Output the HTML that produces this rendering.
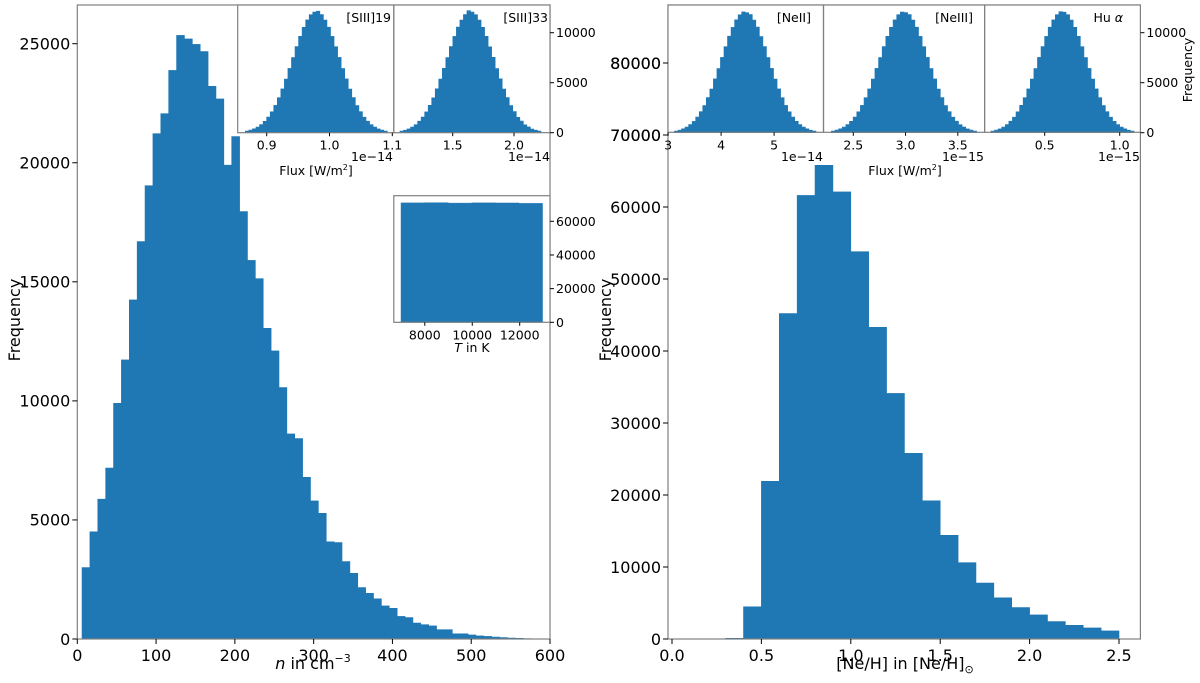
<!DOCTYPE html>
<html><head><meta charset="utf-8"><style>
body{margin:0;background:#fff}
svg{display:block;font-family:"DejaVu Sans","Liberation Sans",sans-serif}
</style></head><body>
<svg id="c" width="1200" height="683" viewBox="0 0 1200 683" xmlns="http://www.w3.org/2000/svg"></svg>
<script>
// ---- data ----
const nStart = 6, nWidth = 10;
const nCounts = [3000,4500,5870,7180,9900,11720,14240,16690,19040,21220,22060,23880,25350,25200,24970,24670,23210,22680,19900,21100,17950,15900,15130,13050,12100,10560,8610,8420,6790,5800,5280,4080,4050,3250,2760,2160,1920,1690,1390,1290,950,900,670,600,550,390,390,220,220,170,130,110,80,60,40,30,15];
const neStart = 0.3, neWidth = 0.1;
const neCounts = [100,4470,21900,45200,61600,65800,62100,53800,43300,34100,25800,19200,14400,10600,7770,5720,4370,3350,2420,1900,1530,1120];
const tStart = 7000, tEnd = 12960;
const tCounts = [70900,71000,70800,70950,70850,70600];
const gS19 = [170,260,390,560,810,1140,1560,2090,2730,3500,4380,5370,6430,7520,8610,9640,10540,11280,11800,12070,12150,11810,11270,10550,9630,8600,7530,6420,5380,4370,3510,2720,2100,1550,1150,800,570,380,260,170];
const gS33 = [160,250,380,570,800,1150,1570,2080,2740,3490,4390,5360,6440,7510,8620,9630,10560,11270,11820,12200,12060,11800,11260,10540,9640,8590,7540,6410,5390,4360,3520,2710,2110,1540,1160,790,580,370,250,160];
const gNe2 = [170,250,390,560,820,1130,1560,2100,2720,3510,4370,5380,6420,7530,8600,9650,10530,11290,11790,12080,12000,11820,11260,10560,9620,8610,7520,6430,5370,4380,3500,2730,2090,1560,1140,810,560,390,250,170];
const gNe3 = [170,260,390,560,810,1140,1560,2090,2730,3500,4380,5370,6430,7520,8610,9640,10540,11280,11800,12070,12010,11810,11270,10550,9630,8600,7530,6420,5380,4370,3510,2720,2100,1550,1150,800,570,380,260,170];
const gHu = [160,260,380,560,810,1150,1550,2090,2740,3500,4380,5370,6420,7530,8610,9630,10550,11280,11800,12100,12050,11800,11270,10540,9640,8600,7520,6430,5370,4380,3500,2720,2100,1550,1140,810,560,390,250,160];
const nTicks = [0,100,200,300,400,500,600];
const nYTicks = [0,5000,10000,15000,20000,25000];
const neTicks = [0.0,0.5,1.0,1.5,2.0,2.5];
const neTickLabels = ["0.0","0.5","1.0","1.5","2.0","2.5"];
const neYTicks = [0,10000,20000,30000,40000,50000,60000,70000,80000];
const insYTicks = [0,5000,10000];
const tYTicks = [0,20000,40000,60000];
const tXTicks = [8000,10000,12000];

const svg = document.getElementById('c');
const NS = 'http://www.w3.org/2000/svg';
const BLUE = '#1f77b4', SP = '#808080';
function mk(tag, attrs, parent){const e=document.createElementNS(NS,tag);for(const k in attrs)e.setAttribute(k,attrs[k]);(parent||svg).appendChild(e);return e;}
function lin(d0,d1,r0,r1){return v=>r0+(v-d0)*(r1-r0)/(d1-d0);}
function txt(x,y,s,size,anchor,name,extra){const t=mk('text',Object.assign({x:x,y:y,'font-size':size,'text-anchor':anchor||'middle',fill:'#000'},extra||{}));t.textContent=s;return t;}
function hist(counts,start,width,X,Y,name){
  const g=mk('g',{});
  
  
  let d='M'+X(start)+','+Y(0);
  counts.forEach((c,i)=>{d+=' L'+X(start+i*width)+','+Y(c)+' L'+X(start+(i+1)*width)+','+Y(c);});
  d+=' L'+X(start+counts.length*width)+','+Y(0)+' Z';
  const p=mk('path',{d:d,fill:BLUE,stroke:BLUE,'stroke-width':0.6},g);
  
  
  return g;
}
function frame(x0,y0,x1,y1,name){const r=mk('rect',{x:x0,y:y0,width:x1-x0,height:y1-y0,fill:'none',stroke:SP,'stroke-width':1.2});}
function xticks(vals,labels,X,y,size,name,len){vals.forEach((v,i)=>{mk('line',{x1:X(v),x2:X(v),y1:y,y2:y+len,stroke:'#000','stroke-width':1});txt(X(v),y+len+size+1,labels[i],size,'middle',name);});}
function yticksL(vals,Y,x,size,name){vals.forEach(v=>{mk('line',{x1:x,x2:x-5,y1:Y(v),y2:Y(v),stroke:'#000','stroke-width':1});txt(x-7,Y(v)+size*0.36,String(v),size,'end',name);});}
function yticksR(vals,Y,x,size,name){vals.forEach(v=>{mk('line',{x1:x,x2:x+4,y1:Y(v),y2:Y(v),stroke:'#000','stroke-width':1});txt(x+6,Y(v)+size*0.36,String(v),size,'start',name);});}

// ---- left main ----
const LX=lin(0,600,77.3,550), LY=lin(0,25000,639,43.7);
hist(nCounts,nStart,nWidth,LX,LY,'density-histogram');
frame(77.3,5,550,639,'density-axes');
xticks(nTicks,nTicks.map(String),LX,639,16,'x-tick-label',5);
yticksL(nYTicks,LY,77.3,16,'y-tick-label');
const xl=txt(313,669,'',16,'middle','density-x-axis-title');
xl.innerHTML='<tspan font-style="italic">n</tspan> in cm<tspan dy="-7" font-size="11">−3</tspan>';
txt(0,0,'Frequency',16,'middle','left-y-axis-title',{transform:'translate(20,320) rotate(-90)'});

// ---- insets left ----
const IY=lin(0,10000,132.7,32.7);
mk('rect',{x:237,y:5,width:313,height:128,fill:'#fff'});
const S1X=lin(0.9,1.1,266.7,392.3);
hist(gS19,0.866,(1.092-0.866)/gS19.length,S1X,IY,'siii19-histogram');
frame(237.7,5,393.8,132.7,'siii19-inset');
xticks([0.9,1.0,1.1],['0.9','1.0','1.1'],S1X,132.7,12.5,'inset-x-tick',3.5);
txt(391,22,'[SIII]19',12.5,'end','siii19-title');
const S2X=lin(1.5,2.0,452.7,514);
hist(gS33,1.07,(2.22-1.07)/gS33.length,S2X,IY,'siii33-histogram');
frame(393.8,5,550,132.7,'siii33-inset');
xticks([1.5,2.0],['1.5','2.0'],S2X,132.7,12.5,'inset-x-tick',3.5);
txt(548,22,'[SIII]33',12.5,'end','siii33-title');
yticksR(insYTicks,IY,550,12.5,'inset-y-tick');
txt(393,161,'1e−14',12.5,'end','siii19-offset');
txt(550,161,'1e−14',12.5,'end','siii33-offset');
const f1=txt(316,175,'',12.5,'middle','flux-axis-title-left');
f1.innerHTML='Flux [W/m<tspan dy="-5" font-size="8">2</tspan><tspan dy="5">]</tspan>';

// T inset
mk('rect',{x:394,y:195,width:156,height:127,fill:'#fff'});
const TX=lin(8000,12000,424.8,519.7), TY=lin(0,60000,322.3,221.3);
hist(tCounts,tStart,(tEnd-tStart)/tCounts.length,TX,TY,'temperature-histogram');
frame(393.8,195.7,550,322.3,'temperature-inset');
xticks(tXTicks,tXTicks.map(String),TX,322.3,12.5,'inset-x-tick',3.5);
yticksR(tYTicks,TY,550,12.5,'inset-y-tick');
const tl=txt(472,352,'',12.5,'middle','temperature-axis-title');
tl.innerHTML='<tspan font-style="italic">T</tspan> in K';

// ---- right main ----
const RX=lin(0,2.5,672,1119), RY=lin(0,60000,639,207);
hist(neCounts,neStart,neWidth,RX,RY,'neh-histogram');
frame(668,5,1140.4,639,'neh-axes');
xticks(neTicks,neTickLabels,RX,639,16,'x-tick-label',5);
yticksL(neYTicks,RY,668,16,'y-tick-label');
const rl=txt(905,669,'',16,'middle','neh-x-axis-title');
rl.innerHTML='[Ne/H] in [Ne/H]<tspan dy="4" font-size="11">⊙</tspan>';
txt(0,0,'Frequency',16,'middle','right-y-axis-title',{transform:'translate(611,320) rotate(-90)'});

// ---- insets right ----
mk('rect',{x:668,y:5,width:472,height:128,fill:'#fff'});
const N2X=lin(3,5,668.1,774.1);
hist(gNe2,3.12,(5.79-3.12)/gNe2.length,N2X,IY,'neii-histogram');
frame(668,5,823.5,132.3,'neii-inset');
xticks([3,4,5],['3','4','5'],N2X,132.3,12.5,'inset-x-tick',3.5);
txt(811,22,'[NeII]',12.5,'end','neii-title');
const N3X=lin(2.5,3.5,853.3,957.8);
hist(gNe3,2.29,(3.68-2.29)/gNe3.length,N3X,IY,'neiii-histogram');
frame(823.5,5,984.6,132.3,'neiii-inset');
xticks([2.5,3.0,3.5],['2.5','3.0','3.5'],N3X,132.3,12.5,'inset-x-tick',3.5);
txt(973,22,'[NeIII]',12.5,'end','neiii-title');
const HX=lin(0.5,1.0,1044.7,1119.7);
hist(gHu,0.142,(1.095-0.142)/gHu.length,HX,IY,'hu-alpha-histogram');
frame(984.6,5,1140.4,132.3,'hu-alpha-inset');
xticks([0.5,1.0],['0.5','1.0'],HX,132.3,12.5,'inset-x-tick',3.5);
const ht=txt(1123,22,'',12.5,'end','hu-alpha-title');
ht.innerHTML='Hu <tspan font-style="italic">α</tspan>';
yticksR(insYTicks,IY,1140.4,12.5,'inset-y-tick');
txt(0,0,'Frequency',12.5,'middle','inset-y-axis-title',{transform:'translate(1192,70) rotate(-90)'});
txt(823,161,'1e−14',12.5,'end','neii-offset');
txt(984,161,'1e−15',12.5,'end','neiii-offset');
txt(1140,161,'1e−15',12.5,'end','hu-alpha-offset');
const f2=txt(905,175,'',12.5,'middle','flux-axis-title-right');
f2.innerHTML='Flux [W/m<tspan dy="-5" font-size="8">2</tspan><tspan dy="5">]</tspan>';
// main right y labels overlapping inset region (70000, 80000) drawn above white
[70000,80000].forEach(v=>{mk('line',{x1:668,x2:663,y1:RY(v),y2:RY(v),stroke:'#000','stroke-width':1});txt(661,RY(v)+5.8,String(v),16,'end','y-tick-label');});
</script>
</body></html>
